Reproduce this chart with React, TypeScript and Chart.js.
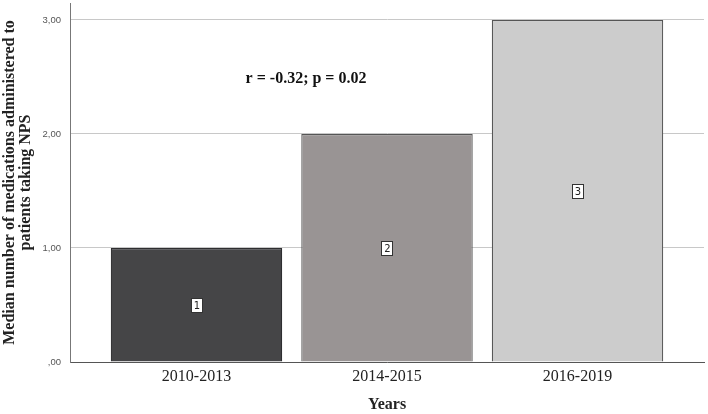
import React, { useEffect, useRef } from "react";
import { Chart, registerables } from "chart.js";

Chart.register(...registerables);

const categories = ["2010-2013", "2014-2015", "2016-2019"];
const positions = [1, 2, 3];
const medians = [1, 2, 3];
const barColors = ["#454547", "#999494", "#cccccc"];
const borderColors = ["#2e2e30", "#555555", "#555555"];
const yTicks = [0, 1, 2, 3];
const annotationText = "r = -0.32; p = 0.02";
const annotationPos = { x: 1.575, y: 2.48 };

const labelPlugin = {
  id: "barLabels",
  afterDatasetsDraw(chart: any) {
    const ctx = chart.ctx;
    const xs = chart.scales.x;
    const ys = chart.scales.y;
    ctx.save();
    positions.forEach((p, i) => {
      const cx = xs.getPixelForValue(p);
      const cy = ys.getPixelForValue(medians[i] / 2);
      const w = 11;
      const h = 14;
      ctx.fillStyle = "#ffffff";
      ctx.fillRect(cx - w / 2, cy - h / 2, w, h);
      ctx.strokeStyle = "#333333";
      ctx.lineWidth = 1;
      ctx.strokeRect(Math.round(cx - w / 2) + 0.5, Math.round(cy - h / 2) + 0.5, w, h);
      ctx.fillStyle = "#222222";
      ctx.font = "10px 'DejaVu Sans', sans-serif";
      ctx.textAlign = "center";
      ctx.textBaseline = "middle";
      ctx.fillText(String(i + 1), cx + 0.5, cy + 1);
    });
    ctx.fillStyle = "#111111";
    ctx.font = "bold 16px 'Liberation Serif', serif";
    ctx.textAlign = "center";
    ctx.textBaseline = "middle";
    ctx.fillText(
      annotationText,
      xs.getPixelForValue(annotationPos.x),
      ys.getPixelForValue(annotationPos.y)
    );
    ctx.restore();
  },
};

export default function App() {
  const ref = useRef<HTMLCanvasElement>(null);
  useEffect(() => {
    document.body.style.margin = "0";
    const chart = new Chart(ref.current!, {
      type: "bar",
      data: {
        datasets: [
          {
            data: positions.map((p, i) => ({ x: p, y: medians[i] })),
            backgroundColor: barColors,
            borderColor: borderColors,
            borderWidth: 1.2,
            barPercentage: 0.9,
            categoryPercentage: 1,
          },
        ],
      },
      options: {
        animation: false,
        responsive: false,
        maintainAspectRatio: false,
        layout: { padding: { top: 3, right: 4, left: 0, bottom: 0 } },
        plugins: { legend: { display: false }, tooltip: { enabled: false } },
        scales: {
          x: {
            type: "linear",
            offset: false,
            min: 0.336,
            max: 3.664,
            afterBuildTicks(scale: any) {
              scale.ticks = positions.map((v) => ({ value: v }));
            },
            afterFit(scale: any) {
              scale.height = 52;
              scale.paddingLeft = 0;
              scale.paddingRight = 0;
            },
            grid: { display: false, drawTicks: false },
            border: { display: true, color: "#555555", width: 1 },
            ticks: {
              callback: (v: any) => categories[positions.indexOf(Number(v))] ?? "",
              color: "#222222",
              font: { family: "'Liberation Serif', serif", size: 16 },
              padding: 5,
              maxRotation: 0,
            },
            title: {
              display: true,
              text: "Years",
              color: "#222222",
              font: { family: "'Liberation Serif', serif", size: 16, weight: "bold" },
              padding: { top: 4, bottom: 0 },
            },
          },
          y: {
            min: 0,
            max: 3.149,
            afterBuildTicks(scale: any) {
              scale.ticks = yTicks.map((v) => ({ value: v }));
            },
            afterFit(scale: any) {
              scale.width = 70;
              scale.paddingTop = 0;
              scale.paddingBottom = 0;
            },
            grid: { color: "#c8c8c8", drawTicks: false, lineWidth: 1 },
            border: { display: true, color: "#777777", width: 1 },
            ticks: {
              callback: (v: any) => (v === 0 ? ",00" : Number(v).toFixed(2).replace(".", ",")),
              color: "#555555",
              font: { family: "'Liberation Sans', Arial, sans-serif", size: 9.5 },
              padding: 9,
            },
            title: {
              display: true,
              text: ["Median number of medications administered to", "patients taking NPS"],
              color: "#222222",
              font: { family: "'Liberation Serif', serif", size: 16, weight: "bold", lineHeight: 1.0 },
              padding: { top: 2, bottom: 0 },
            },
          },
        },
      },
      plugins: [labelPlugin],
    });
    return () => chart.destroy();
  }, []);
  return (
    <div style={{ width: 708, height: 414, position: "relative" }}>
      <canvas ref={ref} width={708} height={414} style={{ width: 708, height: 414 }} />
    </div>
  );
}
